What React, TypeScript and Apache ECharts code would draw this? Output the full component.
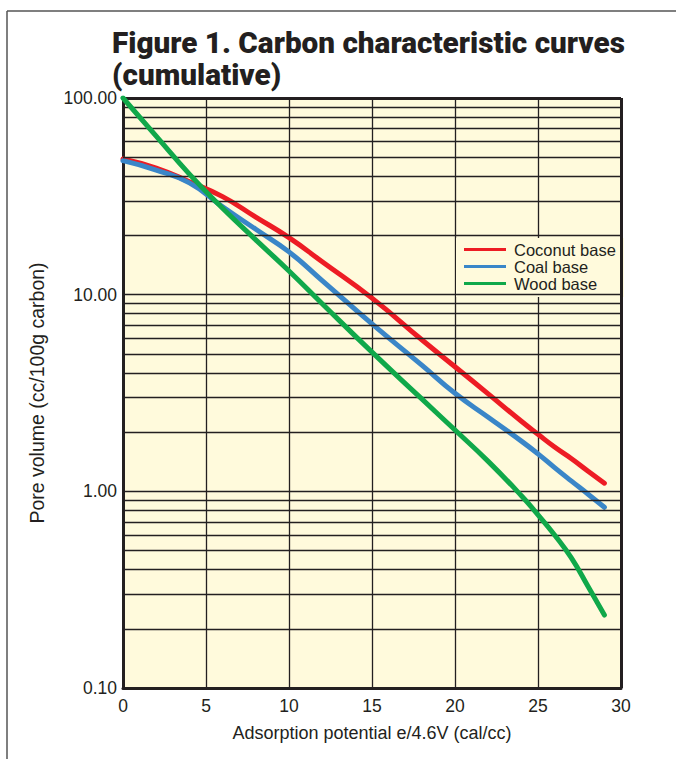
import React, { useEffect, useRef } from "react";
import * as echarts from "echarts";

const potentials = [0, 2, 4, 6, 8, 10, 12, 15, 18, 20, 22, 24, 25, 26, 27, 28, 29];
const coconut = [49, 44, 37.5, 31.5, 24.8, 19.5, 14.7, 9.6, 5.9, 4.3, 3.13, 2.27, 1.95, 1.68, 1.47, 1.27, 1.1];
const coal = [48, 43, 37, 28, 21.5, 16.5, 11.8, 7.1, 4.38, 3.15, 2.38, 1.8, 1.55, 1.32, 1.13, 0.97, 0.83];
const wood = [100, 64, 41, 27.5, 19, 13.2, 9.0, 5.1, 2.95, 2.05, 1.42, 0.95, 0.76, 0.6, 0.46, 0.33, 0.235];
const seriesNames = ["Coconut base", "Coal base", "Wood base"];
const seriesColors = ["#ed1c24", "#3a86c8", "#10a84a"];
const gridValues = [
  0.2, 0.3, 0.4, 0.5, 0.6, 0.7, 0.8, 0.9, 1,
  2, 3, 4, 5, 6, 7, 8, 9, 10,
  20, 30, 40, 50, 60, 70, 80, 90,
];
const titleText = "Figure 1. Carbon characteristic curves\n(cumulative)";
const xName = "Adsorption potential e/4.6V (cal/cc)";
const yName = "Pore volume (cc/100g carbon)";

export default function App() {
  const ref = useRef<HTMLDivElement>(null);
  useEffect(() => {
    if (!ref.current) return;
    const chart = echarts.init(ref.current, null, { renderer: "svg" });
    const font = "Liberation Sans, Arial, Helvetica, sans-serif";
    const dataSets = [coconut, coal, wood];
    chart.setOption({
      animation: false,
      title: {
        text: titleText,
        left: 112,
        top: 26,
        padding: 0,
        textStyle: {
          fontFamily: "Roboto, Liberation Sans, sans-serif",
          fontWeight: 900,
          fontSize: 29.7,
          lineHeight: 32,
          color: "#231f20",
        },
      },
      graphic: [
        { type: "line", shape: { x1: 7, y1: 11, x2: 676, y2: 11 }, style: { stroke: "#555", lineWidth: 1.5 } },
        { type: "line", shape: { x1: 7, y1: 11, x2: 7, y2: 759 }, style: { stroke: "#555", lineWidth: 1.5 } },
      ],
      legend: {
        data: seriesNames,
        orient: "vertical",
        left: 456,
        top: 238,
        backgroundColor: "#fffadc",
        padding: [3, 8, 5, 8],
        icon: "rect",
        itemWidth: 42,
        itemHeight: 3,
        itemGap: 0,
        textStyle: { fontFamily: font, fontSize: 16.5, lineHeight: 17, color: "#231f20", padding: [0, 0, 0, 3] },
      },
      grid: {
        left: 123,
        right: 55,
        top: 98,
        bottom: 71,
        show: true,
        backgroundColor: "#fffadc",
        borderColor: "#231f20",
        borderWidth: 0,
      },
      xAxis: {
        type: "value",
        min: 0,
        max: 30,
        interval: 5,
        name: xName,
        nameLocation: "middle",
        nameGap: 36,
        nameTextStyle: { fontFamily: font, fontSize: 18, color: "#231f20" },
        axisLine: { show: true, onZero: false, lineStyle: { color: "#231f20", width: 3 } },
        axisTick: { show: false },
        axisLabel: { fontFamily: font, fontSize: 17.5, color: "#231f20", margin: 9 },
        splitLine: { show: true, lineStyle: { color: "#231f20", width: 1.3 } },
      },
      yAxis: [
        {
          type: "log",
          logBase: 10,
          min: 0.1,
          max: 100,
          name: yName,
          nameLocation: "middle",
          nameGap: 76,
          nameTextStyle: { fontFamily: font, fontSize: 19.5, color: "#231f20" },
          axisLine: { show: true, onZero: false, lineStyle: { color: "#231f20", width: 3 } },
          axisTick: { show: false },
          axisLabel: {
            fontFamily: font,
            fontSize: 17.5,
            color: "#231f20",
            margin: 6,
            formatter: (v: number) => v.toFixed(2),
          },
          splitLine: { show: false },
        },
      ],
      series: [
        {
          name: "grid",
          type: "line",
          data: [[0, 100]],
          symbol: "none",
          lineStyle: { opacity: 0 },
          silent: true,
          z: 1,
          markLine: {
            silent: true,
            symbol: ["none", "none"],
            label: { show: false },
            lineStyle: { type: "solid", color: "#231f20", width: 1.3 },
            emphasis: { disabled: true },
            data: gridValues.map((v) => ({ yAxis: v })),
          },
        },
        ...seriesNames.map((name, i) => ({
          name,
          type: "line",
          data: potentials.map((x, j) => [x, dataSets[i][j]]),
          showSymbol: false,
          symbol: "none",
          smooth: 0.5,
          z: 3 + i,
          color: seriesColors[i],
          lineStyle: { color: seriesColors[i], width: 5, cap: "round", join: "round" },
        })),
        {
          name: "frame",
          type: "line",
          data: [],
          silent: true,
          z: 10,
          markLine: {
            silent: true,
            symbol: ["none", "none"],
            label: { show: false },
            lineStyle: { type: "solid", color: "#231f20", width: 3 },
            data: [{ xAxis: 30 }, { yAxis: 100 }],
          },
        },
      ],
    });
    return () => chart.dispose();
  }, []);
  return (
    <div
      ref={ref}
      style={{ position: "fixed", left: 0, top: 0, width: 676, height: 759, background: "#fff" }}
    />
  );
}
